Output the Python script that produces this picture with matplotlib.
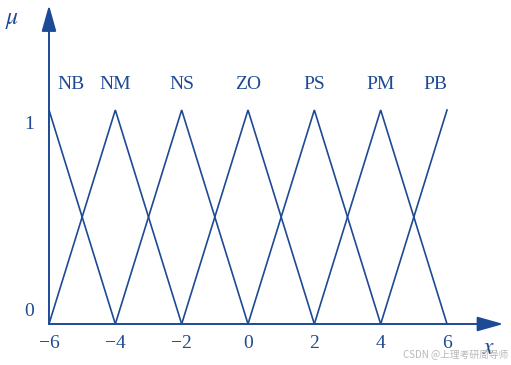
import numpy as np
import matplotlib.pyplot as plt

# ==== dados ====
rotulos = ['NB', 'NM', 'NS', 'ZO', 'PS', 'PM', 'PB']
centros = [-6, -4, -2, 0, 2, 4, 6]
largura = 2
ticks_x = [-6, -4, -2, 0, 2, 4, 6]
ticks_y = [0, 1]
# posição x dos rótulos (NB e PB ficam deslocados para dentro)
pos_rotulos = [-5.35, -4, -2, 0, 2, 4, 5.65]

COR = '#1d4a94'
plt.rcParams['font.family'] = ['Liberation Serif', 'DejaVu Serif']
plt.rcParams['mathtext.fontset'] = 'stix'

fig = plt.figure(figsize=(5.11, 3.65), dpi=100)
ax = fig.add_axes([0, 0, 1, 1])
ax.set_xlim(-7.477, 7.929)
ax.set_ylim(-0.1916, 1.514)
ax.axis('off')

xmin, xmax = centros[0], centros[-1]
for c in centros:
    xs = [max(c - largura, xmin), c, min(c + largura, xmax)]
    ys = [1 - abs(x - c) / largura for x in xs]
    ax.plot(xs, ys, color=COR, lw=1.2, solid_joinstyle='miter')

# eixos com setas
ax.annotate('', xy=(7.7, 0), xytext=(-6, 0),
            arrowprops=dict(arrowstyle='-|>,head_length=1.6,head_width=0.45',
                            color=COR, lw=1.4, shrinkA=0, shrinkB=0))
ax.annotate('', xy=(-6, 1.49), xytext=(-6, 0),
            arrowprops=dict(arrowstyle='-|>,head_length=1.6,head_width=0.45',
                            color=COR, lw=1.4, shrinkA=0, shrinkB=0))

for r, px in zip(rotulos, pos_rotulos):
    ax.text(px, 1.08, r, color=COR, fontsize=14, ha='center', va='bottom')

for t in ticks_x:
    lab = str(t).replace('-', '\u2212')
    ax.text(t, -0.05, lab, color=COR, fontsize=14, ha='center', va='top')

for t in ticks_y:
    ax.text(-6.45, t + 0.02 if t == 0 else t - 0.07, str(t), color=COR,
            fontsize=14, ha='right', va='bottom' if t == 0 else 'center')

ax.text(-7.1, 1.42, r'$\mu$', color=COR, fontsize=17, ha='center', va='center')
ax.text(7.25, -0.115, r'$x$', color=COR, fontsize=17, ha='center', va='center')

ax.text(0.995, 0.015, 'CSDN @上理考研周导师', transform=ax.transAxes,
        color='#b8b8b8', fontsize=7, ha='right', va='bottom',
        family=['Noto Sans CJK SC', 'DejaVu Sans'])

fig.savefig('out.png', dpi=100)
